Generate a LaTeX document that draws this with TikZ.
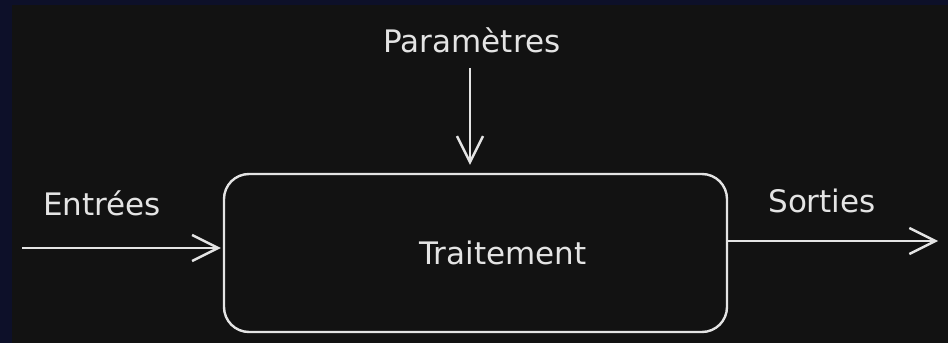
\documentclass[tikz,border=0pt]{standalone}
\usepackage{fontspec}
\setmainfont{DejaVu Sans}
\usepackage{xcolor}
\usepackage{tikz}
\usetikzlibrary{arrows.meta,positioning}
\definecolor{pagebg}{HTML}{121212}
\definecolor{edgebg}{HTML}{0D1029}
\definecolor{ink}{HTML}{E4E4E4}

\begin{document}
\begin{tikzpicture}[
      x=1pt,y=1pt,
      processbox/.style={draw=ink,line width=2.4pt,rounded corners=25pt,minimum width=503pt,minimum height=158pt,inner sep=0pt},
      lbl/.style={text=ink,font=\fontsize{31}{36}\selectfont,inner sep=0pt},
      flow/.style={draw=ink,line width=2.4pt,-{Straight Barb[length=26pt,width=26pt,line width=2.4pt]}}
]
\fill[edgebg] (0,0) rectangle (948,343);
\fill[pagebg] (12,0) rectangle (948,338);
\useasboundingbox (0,0) rectangle (948,343);
\node[processbox] (traitement) at (475.5,90) {};
\node[lbl] (traitementlbl) at (503,90) {Traitement};
\coordinate (entree) at (22,95);
\coordinate (sortie) at (938,102);
\coordinate (param) at (470,275);
\node[lbl] (entreeslbl) at (102,140) {Entrées};
\node[lbl] (sortieslbl) at (822,142) {Sorties};
\node[lbl] (paramlbl) at (472,303) {Paramètres};
\draw[flow] (entree) -- ([xshift=-2pt]entree -| traitement.west);
\draw[flow] (sortie -| traitement.east) -- (sortie);
\draw[flow] (param) -- ([yshift=8pt]param |- traitement.north);
\end{tikzpicture}
\end{document}
